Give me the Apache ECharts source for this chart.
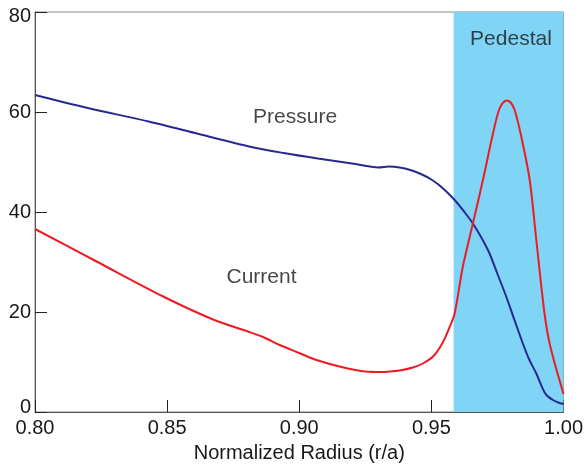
<!DOCTYPE html>
<html>
<head>
<meta charset="utf-8">
<script src="https://cdn.jsdelivr.net/npm/echarts@6/dist/echarts.min.js"></script>
<style>
html, body { margin: 0; padding: 0; background: #fff; }
#chart { width: 586px; height: 469px; }
</style>
</head>
<body>
<div id="chart"></div>
<script>
// pressure profile (r/a, value)
var pressureR = [0.800, 0.820, 0.843, 0.862, 0.881, 0.894, 0.907, 0.920, 0.930, 0.934, 0.938, 0.942, 0.946, 0.950, 0.954, 0.9588, 0.9625, 0.9657, 0.969, 0.972, 0.975, 0.9783, 0.9815, 0.9846, 0.987, 0.9897, 0.992, 0.9935, 0.996, 0.998, 1.000];
var pressureV = [63.4, 60.8, 58.1, 55.6, 53.1, 51.8, 50.7, 49.7, 48.9, 49.1, 48.9, 48.4, 47.6, 46.5, 44.9, 42.4, 40.0, 37.7, 34.8, 31.7, 27.6, 23.1, 18.3, 13.7, 10.5, 7.7, 4.8, 3.4, 2.4, 1.9, 1.6];

// current profile
var currentR = [0.800, 0.8233, 0.8485, 0.8674, 0.880, 0.8863, 0.8926, 0.900, 0.9065, 0.916, 0.925, 0.9316, 0.934, 0.938, 0.943, 0.9468, 0.951, 0.9544, 0.9569, 0.9588, 0.9619, 0.9657, 0.9695, 0.9733, 0.9758, 0.9783, 0.980, 0.9815, 0.984, 0.9872, 0.9897, 0.9928, 0.995, 1.000];
var currentV = [36.6, 30.1, 23.1, 18.5, 16.2, 15.0, 13.4, 11.8, 10.4, 9.0, 8.1, 8.0, 8.1, 8.3, 8.9, 9.7, 11.3, 14.0, 17.0, 19.7, 29.1, 37.7, 46.4, 55.7, 60.7, 62.3, 61.9, 60.4, 55.1, 46.4, 34.4, 19.7, 13.1, 3.6];

var pedestalRange = [0.9584, 1.0];
var yTicks = [0, 20, 40, 60, 80];

var labelNames = ['Pressure', 'Current', 'Pedestal'];
var labelR = [0.8984, 0.8857, 0.9801];
var labelV = [59.0, 27.0, 74.5];

var font = "'Liberation Sans', Arial, Helvetica, sans-serif";
var textColor = '#1a1718';

function pairs(xs, ys) {
	var out = [];
	for (var i = 0; i < xs.length; i++) {
		out.push([xs[i], ys[i]]);
	}
	return out;
}

var annotations = [];
for (var i = 0; i < labelNames.length; i++) {
	annotations.push([labelR[i], labelV[i], labelNames[i]]);
}

var myChart = echarts.init(document.getElementById('chart'), null, { renderer: 'canvas' });

var option = {
	animation: false,
	backgroundColor: '#fff',
	grid: {
		left: 35,
		right: 22,
		top: 12,
		bottom: 57,
		show: true,
		borderColor: '#8a8a8a',
		borderWidth: 1,
		backgroundColor: 'transparent'
	},
	xAxis: {
		type: 'value',
		min: 0.8,
		max: 1.0,
		interval: 0.05,
		name: 'Normalized Radius (r/a)',
		nameLocation: 'middle',
		nameGap: 31,
		nameTextStyle: { fontFamily: font, fontSize: 20, color: textColor },
		axisLine: { show: true, lineStyle: { color: '#555', width: 1 } },
		axisTick: { show: true, inside: true, length: 12, lineStyle: { color: '#222', width: 1 } },
		axisLabel: {
			margin: 6,
			fontFamily: font,
			fontSize: 20,
			color: textColor,
			formatter: function (v) { return v.toFixed(2); }
		},
		splitLine: { show: false }
	},
	yAxis: {
		type: 'value',
		min: yTicks[0],
		max: yTicks[yTicks.length - 1],
		interval: 20,
		axisLine: { show: true, lineStyle: { color: '#555', width: 1 } },
		axisTick: { show: true, inside: true, length: 12, lineStyle: { color: '#222', width: 1 } },
		axisLabel: {
			margin: 4,
			fontFamily: font,
			fontSize: 20,
			color: textColor,
			formatter: function (v) {
				if (v === 0) return '{lo|0}';
				if (v === 80) return '{hi|80}';
				return String(v);
			},
			rich: {
				lo: { fontFamily: font, fontSize: 20, color: textColor, padding: [0, 0, 10, 0] },
				hi: { fontFamily: font, fontSize: 20, color: textColor, padding: [8, 0, 0, 0] }
			}
		},
		splitLine: { show: false }
	},
	series: [
		{
			name: 'band',
			type: 'line',
			data: [],
			z: 1,
			silent: true,
			markArea: {
				silent: true,
				itemStyle: { color: '#80d4f6', opacity: 1 },
				data: [[{ xAxis: pedestalRange[0] }, { xAxis: pedestalRange[1] }]]
			}
		},
		{
			name: 'Pressure',
			type: 'line',
			data: pairs(pressureR, pressureV),
			showSymbol: false,
			smooth: 0.3,
			z: 3,
			lineStyle: { color: '#262a8f', width: 2 }
		},
		{
			name: 'Current',
			type: 'line',
			data: pairs(currentR, currentV),
			showSymbol: false,
			smooth: 0.3,
			z: 4,
			lineStyle: { color: '#ed1c24', width: 2 }
		},
		{
			name: 'labels',
			type: 'scatter',
			data: annotations,
			symbolSize: 0,
			z: 5,
			silent: true,
			label: {
				show: true,
				position: 'inside',
				fontFamily: font,
				fontSize: 21,
				color: textColor,
				formatter: function (p) { return p.value[2]; }
			}
		}
	]
};

myChart.setOption(option);
</script>
</body>
</html>
